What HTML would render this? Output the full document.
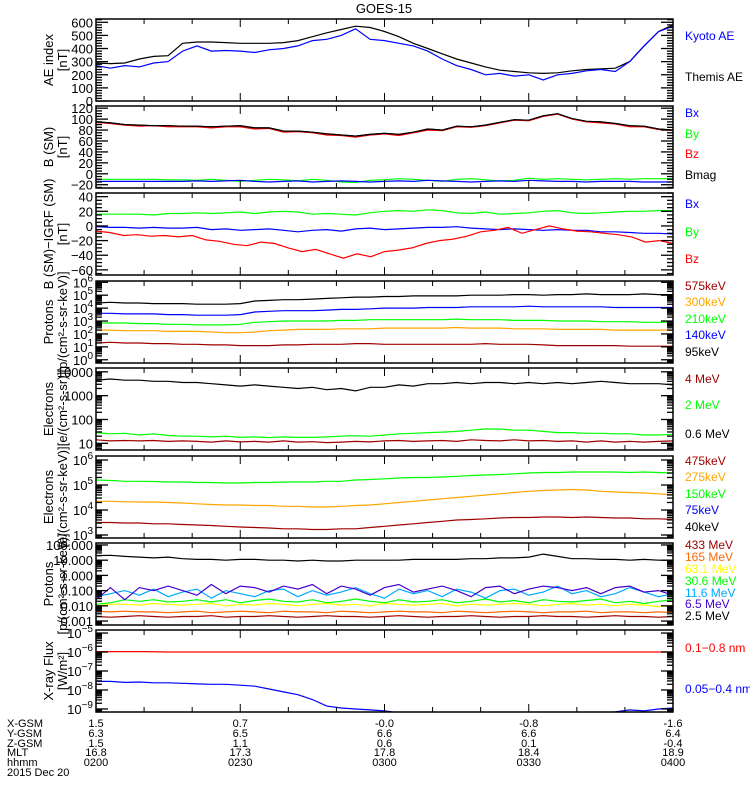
<!DOCTYPE html>
<html><head><meta charset="utf-8"><style>
html,body{margin:0;padding:0;background:#fff;}
svg{display:block;font-family:"Liberation Sans",sans-serif;}
</style></head><body>
<svg id="chart" width="750" height="800" viewBox="0 0 750 800" xmlns="http://www.w3.org/2000/svg">
<defs></defs>
<text x="384" y="13" text-anchor="middle" font-size="13">GOES-15</text>
</svg>
<script>
// ---------- data ----------
const timeTicks = ["0200","0230","0300","0330","0400"];
const xGsm = ["1.5","0.7","-0.0","-0.8","-1.6"];
const yGsm = ["6.3","6.5","6.6","6.6","6.4"];
const zGsm = ["1.5","1.1","0.6","0.1","-0.4"];
const mltVals = ["16.8","17.3","17.8","18.4","18.9"];

const aeThemis = [290,285,290,320,340,345,440,450,450,445,440,440,440,445,460,490,520,545,570,560,530,490,440,400,360,320,290,260,235,225,215,210,215,230,240,245,250,300,420,530,580];
const aeKyoto = [270,250,270,260,290,300,380,420,380,385,380,370,390,400,420,460,470,500,550,470,460,440,420,380,320,270,240,200,210,190,200,160,200,210,230,240,225,300,420,530,570];

const bBmag = [95,93,90,89,88,88,87,87,86,87,88,84,84,78,78,76,73,71,69,72,74,72,76,82,80,87,86,89,94,99,98,106,110,101,96,95,92,88,87,82,80];
const bBz = [94,92,89,87,88,86,86,86,84,86,86,82,83,76,77,75,71,70,67,71,73,70,75,80,79,86,85,88,93,98,97,105,109,100,95,93,91,86,86,81,79];
const bBy = [-10,-10,-10,-10,-10,-11,-11,-12,-10,-12,-14,-12,-10,-11,-13,-10,-12,-15,-16,-12,-11,-9,-10,-12,-14,-10,-9,-11,-13,-12,-8,-10,-9,-10,-11,-10,-9,-10,-9,-9,-9];
const bBx = [-14,-14,-14,-14,-14,-14,-14,-13,-14,-13,-12,-14,-15,-14,-13,-15,-14,-13,-14,-15,-14,-13,-14,-12,-13,-14,-15,-14,-13,-14,-12,-13,-14,-14,-15,-14,-14,-14,-15,-15,-15];

const dBy = [16,16,16,16,15,17,17,18,17,18,19,17,19,20,19,16,17,16,15,18,20,21,20,22,21,18,17,19,16,17,18,20,21,18,17,18,19,20,20,21,21];
const dBx = [-1,-2,-2,-3,-2,-3,-3,-2,-5,-4,-6,-5,-4,-6,-8,-6,-5,-7,-4,-3,-5,-4,-3,-2,-2,-1,-3,-4,-5,-4,-5,-6,-5,-6,-6,-8,-8,-9,-10,-10,-11];
const dBz = [-7,-9,-13,-12,-14,-13,-15,-13,-19,-21,-25,-27,-22,-24,-30,-35,-32,-38,-44,-38,-42,-35,-33,-30,-24,-20,-18,-14,-8,-6,-2,-10,-5,0,-4,-7,-8,-10,-12,-15,-22,-20,-24];

// log10 values
const p95 = [4.4,4.45,4.4,4.4,4.35,4.35,4.35,4.3,4.3,4.3,4.35,4.55,4.6,4.65,4.65,4.7,4.75,4.8,4.85,4.85,4.9,4.9,4.95,4.95,4.95,4.95,5.0,5.0,5.0,5.05,5.05,5.0,5.05,5.05,5.1,5.05,5.05,5.05,5.1,5.05,5.05];
const p140 = [3.6,3.6,3.55,3.55,3.55,3.5,3.5,3.45,3.45,3.45,3.5,3.7,3.75,3.8,3.8,3.8,3.85,3.9,3.9,3.95,4.0,4.0,4.0,4.05,4.05,4.05,4.1,4.1,4.1,4.1,4.15,4.1,4.1,4.1,4.1,4.1,4.05,4.05,4.05,4.05,4.05];
const p210 = [2.85,2.85,2.85,2.8,2.8,2.75,2.75,2.7,2.7,2.7,2.75,2.9,2.95,3.0,3.0,3.0,3.0,3.05,3.05,3.1,3.1,3.1,3.1,3.1,3.1,3.15,3.1,3.1,3.1,3.05,3.05,3.05,3.0,3.0,3.0,2.95,2.95,2.95,2.9,2.9,2.9];
const p300 = [2.3,2.3,2.25,2.25,2.25,2.2,2.2,2.2,2.15,2.1,2.1,2.15,2.25,2.3,2.35,2.35,2.35,2.4,2.4,2.4,2.45,2.45,2.45,2.45,2.45,2.5,2.45,2.45,2.45,2.4,2.4,2.4,2.35,2.35,2.35,2.35,2.3,2.3,2.3,2.3,2.3];
const p575 = [1.3,1.35,1.3,1.3,1.25,1.25,1.2,1.2,1.15,1.15,1.1,1.1,1.1,1.15,1.15,1.2,1.2,1.2,1.25,1.25,1.2,1.2,1.2,1.2,1.2,1.2,1.2,1.25,1.2,1.2,1.2,1.15,1.1,1.1,1.1,1.1,1.1,1.05,1.05,1.05,1.05];

const e06 = [3.65,3.7,3.65,3.65,3.6,3.6,3.55,3.55,3.5,3.45,3.4,3.45,3.4,3.35,3.3,3.35,3.25,3.3,3.2,3.35,3.35,3.45,3.4,3.5,3.5,3.55,3.5,3.55,3.55,3.5,3.55,3.5,3.55,3.5,3.55,3.6,3.55,3.5,3.5,3.5,3.45];
const e2 = [1.45,1.4,1.42,1.35,1.4,1.33,1.3,1.3,1.27,1.3,1.25,1.27,1.24,1.27,1.25,1.25,1.27,1.3,1.32,1.3,1.35,1.4,1.42,1.45,1.47,1.5,1.55,1.6,1.6,1.55,1.55,1.5,1.45,1.45,1.42,1.42,1.4,1.4,1.35,1.35,1.38];
const e4 = [1.15,1.1,1.12,1.1,1.12,1.08,1.1,1.08,1.05,1.1,1.06,1.08,1.05,1.1,1.05,1.07,1.03,1.05,1.08,1.06,1.1,1.12,1.08,1.1,1.12,1.08,1.15,1.12,1.1,1.15,1.1,1.12,1.08,1.1,1.05,1.1,1.05,1.08,1.05,1.08,1.1];

const e150 = [5.2,5.18,5.15,5.15,5.14,5.12,5.12,5.1,5.1,5.08,5.08,5.1,5.1,5.12,5.12,5.12,5.15,5.15,5.2,5.22,5.25,5.28,5.3,5.3,5.32,5.35,5.38,5.4,5.42,5.45,5.48,5.5,5.5,5.52,5.52,5.52,5.52,5.5,5.52,5.5,5.48];
const e275 = [4.35,4.35,4.33,4.32,4.32,4.3,4.28,4.25,4.22,4.2,4.2,4.18,4.18,4.15,4.15,4.12,4.12,4.15,4.18,4.2,4.25,4.3,4.35,4.4,4.45,4.5,4.55,4.6,4.65,4.7,4.75,4.78,4.8,4.82,4.8,4.75,4.72,4.7,4.68,4.65,4.6];
const e475 = [3.5,3.5,3.48,3.48,3.45,3.45,3.42,3.4,3.38,3.35,3.32,3.3,3.28,3.25,3.25,3.22,3.22,3.25,3.25,3.3,3.35,3.4,3.45,3.5,3.55,3.6,3.62,3.65,3.68,3.7,3.7,3.72,3.72,3.7,3.72,3.7,3.68,3.68,3.65,3.65,3.62];

const hp25 = [1.3,1.32,1.25,1.2,1.15,1.2,1.1,1.05,1.05,1.0,1.05,1.05,1.0,1.0,0.95,1.0,0.95,0.95,1.0,1.0,1.0,1.0,1.05,1.05,1.05,1.05,1.1,1.1,1.15,1.15,1.2,1.4,1.25,1.1,1.1,1.05,1.05,1.0,1.05,1.0,1.0];
const hp65 = [-1.6,-0.8,-1.6,-0.8,-1.0,-0.7,-1.0,-1.3,-0.6,-1.2,-0.7,-0.8,-1.1,-0.7,-0.9,-0.6,-1.2,-0.7,-0.9,-1.3,-0.8,-0.6,-1.1,-0.9,-0.7,-1.0,-1.4,-0.8,-0.7,-1.2,-0.9,-0.7,-0.8,-1.0,-0.8,-1.2,-0.8,-0.7,-1.1,-1.0,-1.3];
const hp116 = [-1.4,-1.2,-1.0,-1.3,-0.9,-1.4,-1.1,-0.9,-1.5,-1.0,-1.2,-1.4,-1.0,-0.9,-1.4,-1.0,-1.3,-1.1,-0.8,-1.2,-1.5,-0.9,-1.2,-1.0,-1.4,-0.9,-1.1,-1.5,-1.0,-0.9,-1.3,-1.1,-0.7,-1.2,-1.0,-1.4,-1.2,-0.8,-1.1,-1.4,-1.2];
const hp306 = [-1.9,-1.8,-1.6,-1.7,-1.6,-1.75,-1.7,-1.6,-1.75,-1.6,-1.8,-1.65,-1.55,-1.7,-1.75,-1.6,-1.8,-1.7,-1.55,-1.7,-1.8,-1.6,-1.75,-1.7,-1.6,-1.8,-1.7,-1.55,-1.75,-1.65,-1.8,-1.6,-1.7,-1.75,-1.65,-1.55,-1.8,-1.7,-1.85,-1.7,-1.6];
const hp631 = [-2.0,-1.9,-1.9,-1.95,-1.85,-1.9,-1.95,-1.9,-1.85,-2.0,-1.9,-1.95,-1.85,-1.9,-2.0,-1.9,-1.85,-1.95,-1.9,-2.0,-1.85,-1.9,-1.95,-1.9,-1.85,-2.0,-1.9,-1.95,-1.9,-1.85,-1.9,-2.0,-1.9,-1.85,-1.95,-1.9,-2.0,-1.9,-1.95,-2.05,-1.95];
const hp165 = [-2.35,-2.4,-2.35,-2.4,-2.4,-2.45,-2.4,-2.35,-2.45,-2.4,-2.35,-2.4,-2.45,-2.35,-2.4,-2.4,-2.45,-2.35,-2.4,-2.45,-2.4,-2.35,-2.4,-2.4,-2.45,-2.35,-2.4,-2.45,-2.4,-2.35,-2.4,-2.45,-2.4,-2.4,-2.35,-2.45,-2.4,-2.4,-2.45,-2.4,-2.45];
const hp433 = [-2.7,-2.75,-2.7,-2.65,-2.7,-2.75,-2.7,-2.7,-2.65,-2.75,-2.7,-2.7,-2.65,-2.7,-2.75,-2.7,-2.65,-2.7,-2.7,-2.75,-2.7,-2.65,-2.7,-2.75,-2.7,-2.7,-2.65,-2.7,-2.75,-2.7,-2.7,-2.65,-2.7,-2.7,-2.75,-2.7,-2.65,-2.7,-2.7,-2.75,-2.7];

const xrLong = [-5.98,-5.98,-5.98,-6.0,-6.0,-6.0,-6.0,-6.0,-6.0,-6.0,-6.0,-6.0,-6.0,-6.0,-6.0,-6.0,-6.0,-6.0,-6.0,-6.0,-6.0,-6.0,-6.0,-6.0,-6.0];
const xrShort = [-7.55,-7.55,-7.6,-7.58,-7.62,-7.62,-7.65,-7.68,-7.7,-7.7,-7.75,-7.8,-7.95,-8.1,-8.25,-8.5,-8.85,-8.95,-9.0,-9.05,-9.1,-9.2,-9.3,-9.3,-9.3,-9.3,-9.3,-9.3,-9.3,-9.3,-9.3,-9.3,-9.3,-9.3,-9.3,-9.2,-9.15,-9.05,-9.1,-9.0,-8.95];

// ---------- drawing ----------
const NS="http://www.w3.org/2000/svg";
const svg=document.getElementById('chart');
const X0=96,X1=673,PH=82;
function el(tag,attrs,parent){const e=document.createElementNS(NS,tag);for(const k in attrs)e.setAttribute(k,attrs[k]);(parent||svg).appendChild(e);return e;}
function xScale(i,n){return X0+(X1-X0)*i/(n-1);}

const panels=[
 {top:19,min:0,max:625,log:false,major:100,minor:20,lab:v=>String(v),t1:"AE index",t2:"[nT]",name:"ae-index",
  series:[[aeThemis,"#000"],[aeKyoto,"#0000ff"]],legend:[["Kyoto AE","#0000ff",36],["Themis AE","#000",77]]},
 {top:106,min:-26,max:124,log:false,major:20,minor:5,lab:v=>v<0?"\u2212"+(-v):String(v),t1:"B (SM)",t2:"[nT]",name:"b-sm",
  series:[[bBmag,"#000"],[bBz,"#ff0000"],[bBy,"#00ff00"],[bBx,"#0000ff"],[bBmag,"#000"]],legend:[["Bx","#0000ff",113],["By","#00ff00",134],["Bz","#ff0000",154],["Bmag","#000",175]]},
 {top:193,min:-67,max:45,log:false,major:20,minor:5,lab:v=>v<0?"\u2212"+(-v):String(v),t1:"B (SM)\u2212IGRF (SM)",t2:"[nT]",name:"b-igrf",
  series:[[dBy,"#00ff00"],[dBx,"#0000ff"],[dBz,"#ff0000"]],legend:[["Bx","#0000ff",204],["By","#00ff00",232],["Bz","#ff0000",259]]},
 {top:281,min:-0.25,max:6.1,log:true,labs:[0,1,2,3,4,5,6],fmt:"pow",t1:"Protons",t2:"[p/(cm\u00b2-s-sr-keV)]",name:"protons-low",
  series:[[p95,"#000"],[p140,"#0000ff"],[p210,"#00ff00"],[p300,"#ffa500"],[p575,"#a00000"]],
  legend:[["575keV","#a00000",286],["300keV","#ffa500",302],["210keV","#00ff00",319],["140keV","#0000ff",335],["95keV","#000",352]]},
 {top:368,min:0.72,max:4.16,log:true,labs:[1,2,3,4],fmt:"plain",t1:"Electrons",t2:"[e/(cm\u00b2-s-sr)]",name:"electrons-high",
  series:[[e06,"#000"],[e2,"#00ff00"],[e4,"#a00000"]],legend:[["4 MeV","#a00000",379],["2 MeV","#00ff00",405],["0.6 MeV","#000",434]]},
 {top:456,min:2.88,max:6.16,log:true,labs:[3,4,5,6],fmt:"pow",t1:"Electrons",t2:"[e/(cm\u00b2-s-sr-keV)]",name:"electrons-low",
  series:[[e150,"#00ff00"],[e275,"#ffa500"],[e475,"#a00000"]],
  legend:[["475keV","#a00000",461],["275keV","#ffa500",477],["150keV","#00ff00",494],["75keV","#0000ff",510],["40keV","#000",527]]},
 {top:543,min:-3.26,max:2.13,log:true,labs:[-3,-2,-1,0,1,2],fmt:"dec",t1:"Protons",t2:"[p/(cm\u00b2-s-sr-keV)]",name:"protons-high",
  series:[[hp433,"#a00000"],[hp165,"#ff6600"],[hp631,"#ffff00"],[hp306,"#00ff00"],[hp116,"#00aaff"],[hp65,"#4400cc"],[hp25,"#000"]],
  legend:[["433 MeV","#a00000",545],["165 MeV","#ff6600",557],["63.1 MeV","#ffff00",569],["30.6 MeV","#00ff00",581],["11.6 MeV","#00aaff",593],["6.5 MeV","#4400cc",604],["2.5 MeV","#000",616]]},
 {top:630,min:-9.16,max:-4.84,log:true,labs:[-9,-8,-7,-6,-5],fmt:"pow",t1:"X-ray Flux",t2:"[W/m\u00b2]",name:"xray-flux",
  series:[[xrLong,"#ff0000"],[xrShort,"#0000ff"]],legend:[["0.1\u22120.8 nm","#ff0000",648],["0.05\u22120.4 nm","#0000ff",689]]}
];

panels.forEach((p,pi)=>{
 const g=el('g',{});
 
 
 const y=v=>p.top+PH-(v-p.min)/(p.max-p.min)*PH;
 const cp=el('clipPath',{id:'cp'+pi},svg.querySelector('defs'));
 el('rect',{x:X0,y:p.top,width:X1-X0,height:PH},cp);
 p.series.forEach((s,si)=>{
  const d=s[0].map((v,i)=>(i?'L':'M')+xScale(i,s[0].length).toFixed(1)+','+y(v).toFixed(1)).join('');
  const path=el('path',{d:d,fill:'none',stroke:s[1],'stroke-width':1.2,'clip-path':'url(#cp'+pi+')'},g);
  
  
 });
 el('rect',{x:X0,y:p.top,width:X1-X0,height:PH,fill:'none',stroke:'#000','stroke-width':1.5},g);
 for(let k=0;k<=12;k++){const x=X0+(X1-X0)*k/12;const L=k%3==0?8:5;
  el('line',{x1:x,x2:x,y1:p.top,y2:p.top+L,stroke:'#000'},g);
  el('line',{x1:x,x2:x,y1:p.top+PH,y2:p.top+PH-L,stroke:'#000'},g);}
 function tick(v,L){const yy=y(v);if(yy<p.top-0.5||yy>p.top+PH+0.5)return;
  el('line',{x1:X0,x2:X0+L,y1:yy,y2:yy,stroke:'#000','stroke-width':1.3},g);
  el('line',{x1:X1,x2:X1-L,y1:yy,y2:yy,stroke:'#000','stroke-width':1.3},g);}
 function label(v){const yy=y(v);const t=el('text',{x:93,y:yy+5,'text-anchor':'end','font-size':13},g);
  
  
  return t;}
 if(!p.log){
  for(let v=Math.ceil(p.min/p.minor)*p.minor;v<=p.max;v+=p.minor)tick(v,v%p.major==0?12:6);
  for(let v=Math.ceil(p.min/p.major)*p.major;v<=p.max;v+=p.major){const t=label(v);t.textContent=p.lab(v);}
 } else {
  for(let d=Math.floor(p.min);d<=Math.ceil(p.max);d++){tick(d,12);for(let m=2;m<10;m++)tick(d+Math.log10(m),6);}
  p.labs.forEach(d=>{const t=label(d);
   if(p.fmt=="plain")t.textContent=String(Math.round(Math.pow(10,d)));
   else if(p.fmt=="dec")t.textContent=Math.pow(10,d).toFixed(3);
   else{const a=el('tspan',{},t);a.textContent="10";const b=el('tspan',{dy:-6,'font-size':10},t);b.textContent=d<0?"\u2212"+(-d):String(d);}
  });
 }
 const cy=p.top+PH/2;
 const t1=el('text',{x:0,y:0,'text-anchor':'middle','font-size':13,transform:`translate(53,${cy}) rotate(-90)`},g);
 t1.textContent=p.t1;
 
 
 const t2=el('text',{x:0,y:0,'text-anchor':'middle','font-size':13,transform:`translate(67,${cy}) rotate(-90)`},g);
 t2.textContent=p.t2;
 
 
 p.legend.forEach(l=>{const t=el('text',{x:685,y:l[2]+4,fill:l[1],'font-size':12},g);t.textContent=l[0];
  
  });
});

const rows=[["X-GSM",xGsm,723],["Y-GSM",yGsm,733],["Z-GSM",zGsm,743],["MLT",mltVals,752],["hhmm",timeTicks,762]];
rows.forEach(r=>{
 const t=el('text',{x:7,y:r[2]+4,'font-size':11});t.textContent=r[0];
 
 
 r[1].forEach((v,i)=>{const tx=el('text',{x:X0+(X1-X0)*i/4,y:r[2]+4,'font-size':11,'text-anchor':'middle'});tx.textContent=v;
  
  });
});
const dt=el('text',{x:7,y:776,'font-size':11});dt.textContent="2015 Dec 20";


</script>
</body></html>
